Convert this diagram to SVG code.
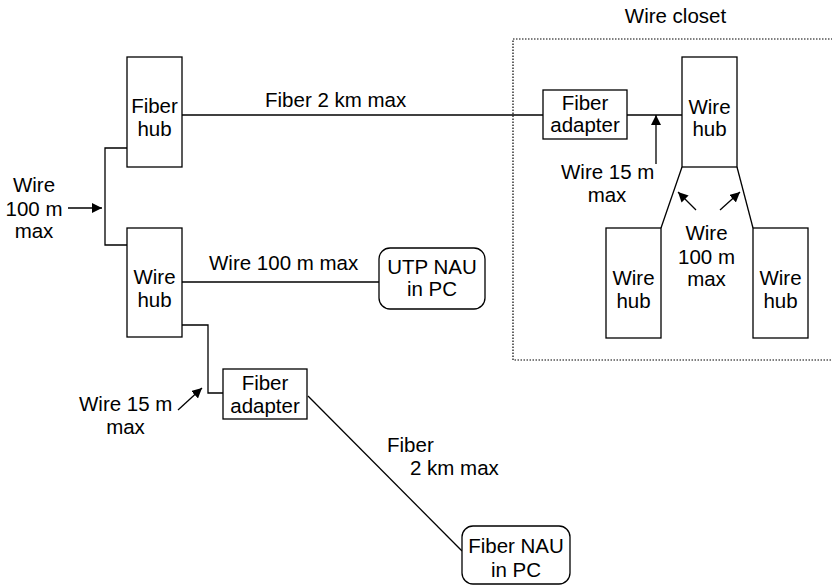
<svg xmlns="http://www.w3.org/2000/svg" width="832" height="586" viewBox="0 0 832 586">
<style>
.box{fill:#fff;stroke:#000;stroke-width:1.3}
.ln{fill:none;stroke:#000;stroke-width:1.3}
.arr{fill:none;stroke:#000;stroke-width:1.3;marker-end:url(#ah)}
text{font-family:"Liberation Sans",Arial,sans-serif;font-size:20.5px;fill:#000}
.c{text-anchor:middle}
</style>
<defs>
<marker id="ah" viewBox="0 0 10 10" refX="10" refY="5" markerWidth="10" markerHeight="10" markerUnits="userSpaceOnUse" orient="auto">
<path d="M0,0 L10,5 L0,10 z" fill="#000"/>
</marker>
</defs>
<rect x="513" y="39" width="330" height="321" fill="none" stroke="#000" stroke-width="1.2" stroke-dasharray="1.5,1.5"/>
<text class="c" x="675.5" y="23">Wire closet</text>
<g id="connectors">
<polyline class="ln" points="182,115 543,115"/>
<polyline class="ln" points="627,115 682,115"/>
<polyline class="ln" points="127,148 105,148 105,245 127,245"/>
<polyline class="ln" points="182,282 379,282"/>
<polyline class="ln" points="182,325 208,325 208,393 223,393"/>
<line class="ln" x1="308" y1="396" x2="462" y2="551"/>
<line class="ln" x1="682" y1="167" x2="661" y2="228"/>
<line class="ln" x1="737" y1="167" x2="753" y2="228"/>
<line class="arr" x1="68" y1="208" x2="102" y2="208"/>
<line class="arr" x1="178" y1="410" x2="202" y2="388"/>
<line class="arr" x1="656" y1="164" x2="656" y2="115"/>
<line class="arr" x1="696" y1="210" x2="678" y2="192"/>
<line class="arr" x1="720" y1="210" x2="740" y2="192"/>
</g>
<g id="labels">
<text x="265" y="107">Fiber 2 km max</text>
<text class="c" x="34" y="191.5">Wire</text>
<text class="c" x="34" y="215.5">100 m</text>
<text class="c" x="34" y="238">max</text>
<text x="209" y="270">Wire 100 m max</text>
<text x="79" y="411">Wire 15 m</text>
<text class="c" x="125.5" y="433.5">max</text>
<text x="387" y="452">Fiber</text>
<text x="410" y="475">2 km max</text>
<text x="561" y="178.5">Wire 15 m</text>
<text class="c" x="607" y="202">max</text>
<text class="c" x="706.5" y="240">Wire</text>
<text class="c" x="706.5" y="263.5">100 m</text>
<text class="c" x="706.5" y="286">max</text>
</g>
<g id="fiber-hub">
<rect class="box" x="127" y="57" width="55" height="110"/>
<text class="c" x="154.5" y="113">Fiber</text>
<text class="c" x="154.5" y="136">hub</text>
</g>
<g id="wire-hub-left">
<rect class="box" x="127" y="228" width="55" height="109"/>
<text class="c" x="154.5" y="284">Wire</text>
<text class="c" x="154.5" y="307">hub</text>
</g>
<g id="utp-nau">
<rect class="box" x="379" y="248" width="106" height="61" rx="11"/>
<text class="c" x="432" y="273.5">UTP NAU</text>
<text class="c" x="432" y="296">in PC</text>
</g>
<g id="fiber-adapter-left">
<rect class="box" x="223" y="369" width="84" height="50"/>
<text class="c" x="265" y="390">Fiber</text>
<text class="c" x="265" y="412.5">adapter</text>
</g>
<g id="fiber-nau">
<rect class="box" x="462" y="526" width="108" height="58" rx="11"/>
<text class="c" x="516" y="553">Fiber NAU</text>
<text class="c" x="516" y="577">in PC</text>
</g>
<g id="fiber-adapter-closet">
<rect class="box" x="543" y="90" width="84" height="49"/>
<text class="c" x="585" y="109.5">Fiber</text>
<text class="c" x="585" y="132">adapter</text>
</g>
<g id="wire-hub-closet">
<rect class="box" x="682" y="57" width="55" height="110"/>
<text class="c" x="709.5" y="113.5">Wire</text>
<text class="c" x="709.5" y="136">hub</text>
</g>
<g id="wire-hub-closet-left">
<rect class="box" x="606" y="228" width="55" height="110"/>
<text class="c" x="633.5" y="285">Wire</text>
<text class="c" x="633.5" y="308">hub</text>
</g>
<g id="wire-hub-closet-right">
<rect class="box" x="753" y="228" width="55" height="110"/>
<text class="c" x="780.5" y="285">Wire</text>
<text class="c" x="780.5" y="308">hub</text>
</g>
</svg>
